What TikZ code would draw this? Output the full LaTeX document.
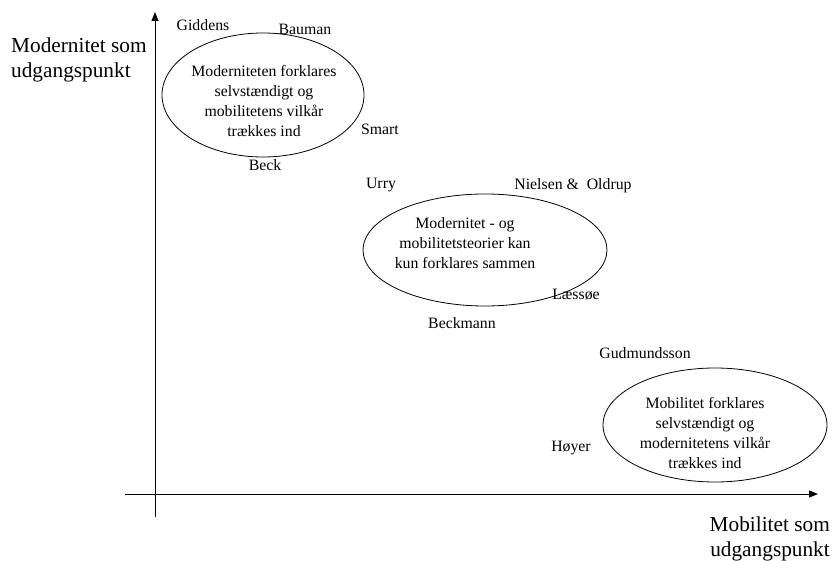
\documentclass[tikz,border=0pt]{standalone}
\usepackage{fontspec}
\setmainfont{Liberation Serif}
\usetikzlibrary{arrows.meta}
\tikzset{
  axisline/.style={line width=1pt,-{Triangle[length=9pt,width=7pt]}},
  oval/.style={line width=0.8pt},
  person/.style={font=\fontsize{15.8}{18}\selectfont,inner sep=0pt},
  ovaltext/.style={font=\fontsize{15.8}{19.8}\selectfont,align=center,inner sep=0pt},
  axlabel/.style={font=\fontsize{21.3}{25}\selectfont,inner sep=0pt}
}
\begin{document}
\begin{tikzpicture}[x=1pt,y=-1pt]
\useasboundingbox (0,0) rectangle (833,561);
% axes
\coordinate (vb) at (155,517);
\coordinate (vt) at (155,12);
\coordinate (hl) at (125,494);
\coordinate (hr) at (818,494);
\draw[axisline] (vb) -- (vt);
\draw[axisline] (hl) -- (hr);
% axis labels
\node[axlabel,anchor=west,align=left] (ylab) at (11,60) {Modernitet som\\udgangspunkt};
\node[axlabel,anchor=east,align=right] (xlab) at (830,539) {Mobilitet som\\udgangspunkt};
% ellipses
\draw[oval] (263,95) ellipse [x radius=101, y radius=62];
\draw[oval] (485,250) ellipse [x radius=122, y radius=56];
\draw[oval] (715,425) ellipse [x radius=112, y radius=57];
% ellipse texts
\node[ovaltext] (t1) at (264,101) {Moderniteten forklares\\selvstændigt og\\mobilitetens vilkår\\trækkes ind};
\node[ovaltext] (t2) at (465,243) {Modernitet - og\\mobilitetsteorier kan\\kun forklares sammen};
\node[ovaltext] (t3) at (705,433) {Mobilitet forklares\\selvstændigt og\\modernitetens vilkår\\trækkes ind};
% names
\node[person] (giddens) at (203,25) {Giddens};
\node[person] (bauman) at (305,29) {Bauman};
\node[person] (smart) at (380,129) {Smart};
\node[person] (beck) at (265,165) {Beck};
\node[person] (urry) at (381,185) {Urry};
\node[person] (nielsen) at (573,186) {Nielsen \&\ \ Oldrup};
\node[person] (laessoe) at (576,295) {Læssøe};
\node[person] (beckmann) at (462,323) {Beckmann};
\node[person] (gudmundsson) at (645,353) {Gudmundsson};
\node[person] (hoyer) at (571,448) {Høyer};
\end{tikzpicture}
\end{document}
